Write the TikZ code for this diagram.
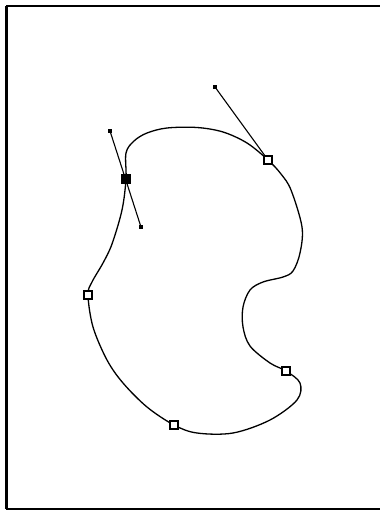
\documentclass[tikz,border=0pt]{standalone}
\begin{document}
\begin{tikzpicture}[x=1pt,y=-1pt,
  curve/.style={line width=1.3pt,black},
  handle/.style={line width=1.1pt,black},
  openanchor/.style={draw=black,fill=white,line width=1.1pt,minimum size=8pt,inner sep=0pt,outer sep=0pt,rectangle},
  filledanchor/.style={draw=black,fill=black,minimum size=9pt,inner sep=0pt,outer sep=0pt,rectangle},
  handleend/.style={fill=black,minimum size=4.5pt,inner sep=0pt,outer sep=0pt,rectangle},
  frameline/.style={line width=2.4pt,black}]
\fill[white] (0,0) rectangle (380,510);
\useasboundingbox (0,0) rectangle (380,510);
% frame
\coordinate (fTL) at (6.3,6.3);
\coordinate (fTR) at (380,6.3);
\coordinate (fBL) at (6.3,509);
\coordinate (fBR) at (380,509);
\draw[frameline,line width=2.8pt] (fTL) -- (fBL);
\draw[frameline] (6.3,6.3) -- (fTR);
\draw[frameline,line width=2pt] (6.3,509) -- (fBR);
% anchor coordinates
\coordinate (A) at (126,179);
\coordinate (B) at (268,160);
\coordinate (C) at (88,295);
\coordinate (D) at (174,425);
\coordinate (E) at (286,371);
\coordinate (hA1) at (110,131);
\coordinate (hA2) at (141,227);
\coordinate (hB) at (215,87);
% outline
\draw[curve] plot[smooth cycle,tension=0.55] coordinates {
  (A) (126,153) (134,141) (147,133) (167,128) (197,127.5) (223,132) (247,143)
  (B) (281,174) (291,190) (302,227) (300,253) (293,271) (283,277) (263,282)
  (250,290) (243,307) (243,327) (250,346) (270,363)
  (E) (300,383) (297,400) (270,420) (233,433) (197,433)
  (D) (147,407) (123,383) (107,360) (93,327)
  (C) (92,282) (103,263) (112,244) (122,210)};
% handles
\draw[handle] (hA1) -- (hA2);
\draw[handle] (hB) -- (B);
\node[handleend] (nhA1) at (hA1) {};
\node[handleend] (nhA2) at (hA2) {};
\node[handleend] (nhB) at (hB) {};
% anchors
\node[filledanchor] (nA) at (A) {};
\node[openanchor] (nB) at (B) {};
\node[openanchor] (nC) at (C) {};
\node[openanchor] (nD) at (D) {};
\node[openanchor] (nE) at (E) {};
\end{tikzpicture}
\end{document}
